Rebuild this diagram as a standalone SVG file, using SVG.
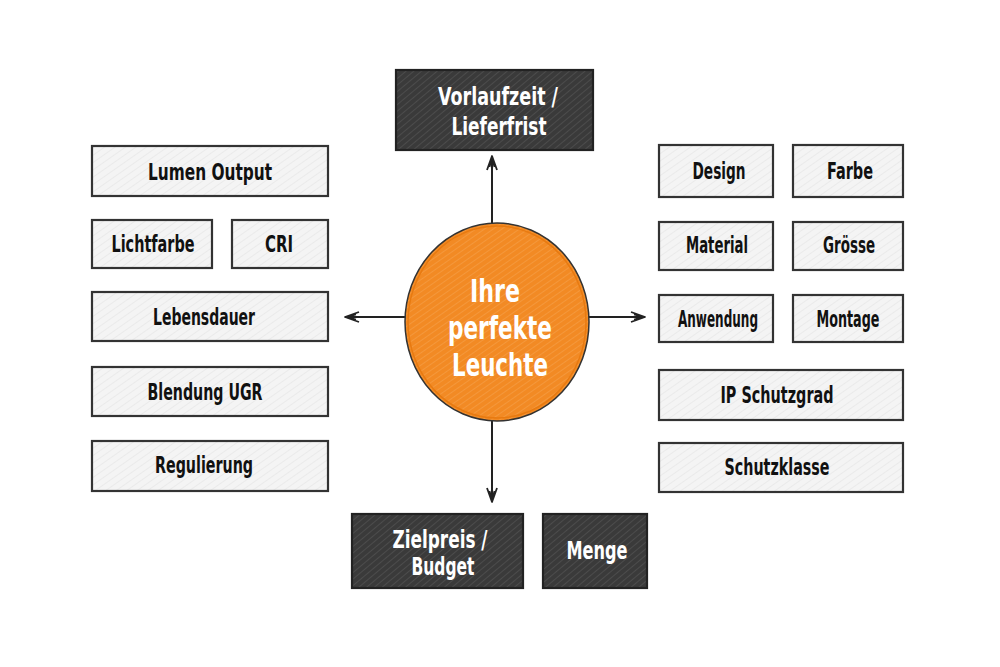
<svg xmlns="http://www.w3.org/2000/svg" width="1000" height="667" viewBox="0 0 1000 667">
<defs>
<pattern id="hl" width="6" height="6" patternUnits="userSpaceOnUse" patternTransform="rotate(-35)">
<rect width="6" height="6" fill="#f4f4f4"/>
<line x1="0" y1="0" x2="6" y2="0" stroke="#e4e4e4" stroke-width="1.2"/>
</pattern>
<pattern id="hd" width="5" height="5" patternUnits="userSpaceOnUse" patternTransform="rotate(-40)">
<rect width="5" height="5" fill="#3a3a3a"/>
<line x1="0" y1="0" x2="5" y2="0" stroke="#555" stroke-width="1.3"/>
</pattern>
<pattern id="ho" width="5" height="5" patternUnits="userSpaceOnUse" patternTransform="rotate(-35)">
<rect width="5" height="5" fill="#f28a24"/>
<line x1="0" y1="0" x2="5" y2="0" stroke="#f6a24c" stroke-width="1.2"/>
</pattern>
<marker id="ah" viewBox="0 0 16 12" refX="15" refY="6" markerWidth="16" markerHeight="12" markerUnits="userSpaceOnUse" orient="auto">
<path d="M1,1 L15,6 L1,11 M4,3.5 L13,6 L4,8.5" fill="none" stroke="#222" stroke-width="1.8" stroke-linejoin="round"/>
</marker>
</defs>
<style>
.lb{fill:url(#hl);stroke:#333;stroke-width:2.2}
.db{fill:url(#hd);stroke:#222;stroke-width:2.2}
.t{font-family:'DejaVu Sans Condensed','Liberation Sans',sans-serif;font-weight:bold;font-size:23px;text-anchor:middle;fill:#111}
.w{fill:#fff;font-size:24px}
.c{fill:#fff;font-size:32px}
.cn{stroke:#222;stroke-width:2;fill:none}
</style>
<rect width="1000" height="667" fill="#fff"/>

<g id="connectors">
<line class="cn" x1="406" y1="317" x2="345" y2="317" marker-end="url(#ah)"/>
<line class="cn" x1="589" y1="317" x2="645" y2="317" marker-end="url(#ah)"/>
<line class="cn" x1="492" y1="224" x2="492" y2="156" marker-end="url(#ah)"/>
<line class="cn" x1="492" y1="421" x2="492" y2="502" marker-end="url(#ah)"/>
</g>

<g id="center">
<ellipse cx="497" cy="322" rx="92" ry="99" fill="url(#ho)" stroke="#333" stroke-width="1.5"/>
<ellipse cx="497" cy="322" rx="89" ry="96" fill="none" stroke="#e87a10" stroke-width="1.5"/>
<text class="t c" x="495" y="302" textLength="50" lengthAdjust="spacingAndGlyphs">Ihre</text>
<text class="t c" x="500" y="339" textLength="104" lengthAdjust="spacingAndGlyphs">perfekte</text>
<text class="t c" x="500" y="376" textLength="96" lengthAdjust="spacingAndGlyphs">Leuchte</text>
</g>

<g id="vorlaufzeit">
<rect class="db" x="396" y="70" width="197" height="80"/>
<text class="t w" x="498" y="105" textLength="120" lengthAdjust="spacingAndGlyphs">Vorlaufzeit /</text>
<text class="t w" x="499" y="135" textLength="95" lengthAdjust="spacingAndGlyphs">Lieferfrist</text>
</g>

<g id="lumen"><rect class="lb" x="92" y="146" width="236" height="50"/><text class="t" x="210" y="180" textLength="124" lengthAdjust="spacingAndGlyphs">Lumen Output</text></g>
<g id="lichtfarbe"><rect class="lb" x="92" y="220" width="120" height="48"/><text class="t" x="153" y="252" textLength="83" lengthAdjust="spacingAndGlyphs">Lichtfarbe</text></g>
<g id="cri"><rect class="lb" x="232" y="220" width="96" height="48"/><text class="t" x="279" y="252" textLength="28" lengthAdjust="spacingAndGlyphs">CRI</text></g>
<g id="lebensdauer"><rect class="lb" x="92" y="292" width="236" height="49"/><text class="t" x="204" y="325" textLength="102" lengthAdjust="spacingAndGlyphs">Lebensdauer</text></g>
<g id="blendung"><rect class="lb" x="92" y="367" width="236" height="49"/><text class="t" x="205" y="400" textLength="115" lengthAdjust="spacingAndGlyphs">Blendung UGR</text></g>
<g id="regulierung"><rect class="lb" x="92" y="441" width="236" height="50"/><text class="t" x="204" y="473" textLength="98" lengthAdjust="spacingAndGlyphs">Regulierung</text></g>

<g id="design"><rect class="lb" x="659" y="145" width="114" height="52"/><text class="t" x="719" y="179" textLength="53" lengthAdjust="spacingAndGlyphs">Design</text></g>
<g id="farbe"><rect class="lb" x="793" y="145" width="110" height="52"/><text class="t" x="850" y="179" textLength="46" lengthAdjust="spacingAndGlyphs">Farbe</text></g>
<g id="material"><rect class="lb" x="659" y="222" width="114" height="48"/><text class="t" x="717" y="253" textLength="62" lengthAdjust="spacingAndGlyphs">Material</text></g>
<g id="groesse"><rect class="lb" x="793" y="222" width="110" height="48"/><text class="t" x="849" y="253" textLength="52" lengthAdjust="spacingAndGlyphs">Grösse</text></g>
<g id="anwendung"><rect class="lb" x="659" y="295" width="114" height="47"/><text class="t" x="718" y="327" textLength="80" lengthAdjust="spacingAndGlyphs">Anwendung</text></g>
<g id="montage"><rect class="lb" x="793" y="295" width="110" height="47"/><text class="t" x="848" y="327" textLength="63" lengthAdjust="spacingAndGlyphs">Montage</text></g>
<g id="ip"><rect class="lb" x="659" y="370" width="244" height="50"/><text class="t" x="777" y="403" textLength="113" lengthAdjust="spacingAndGlyphs">IP Schutzgrad</text></g>
<g id="schutzklasse"><rect class="lb" x="659" y="443" width="244" height="49"/><text class="t" x="777" y="475" textLength="105" lengthAdjust="spacingAndGlyphs">Schutzklasse</text></g>

<g id="zielpreis">
<rect class="db" x="352" y="514" width="171" height="74"/>
<text class="t w" x="440" y="548" textLength="95" lengthAdjust="spacingAndGlyphs">Zielpreis /</text>
<text class="t w" x="443" y="575" textLength="63" lengthAdjust="spacingAndGlyphs">Budget</text>
</g>
<g id="menge"><rect class="db" x="543" y="514" width="104" height="74"/><text class="t w" x="597" y="559" textLength="61" lengthAdjust="spacingAndGlyphs">Menge</text></g>
</svg>
